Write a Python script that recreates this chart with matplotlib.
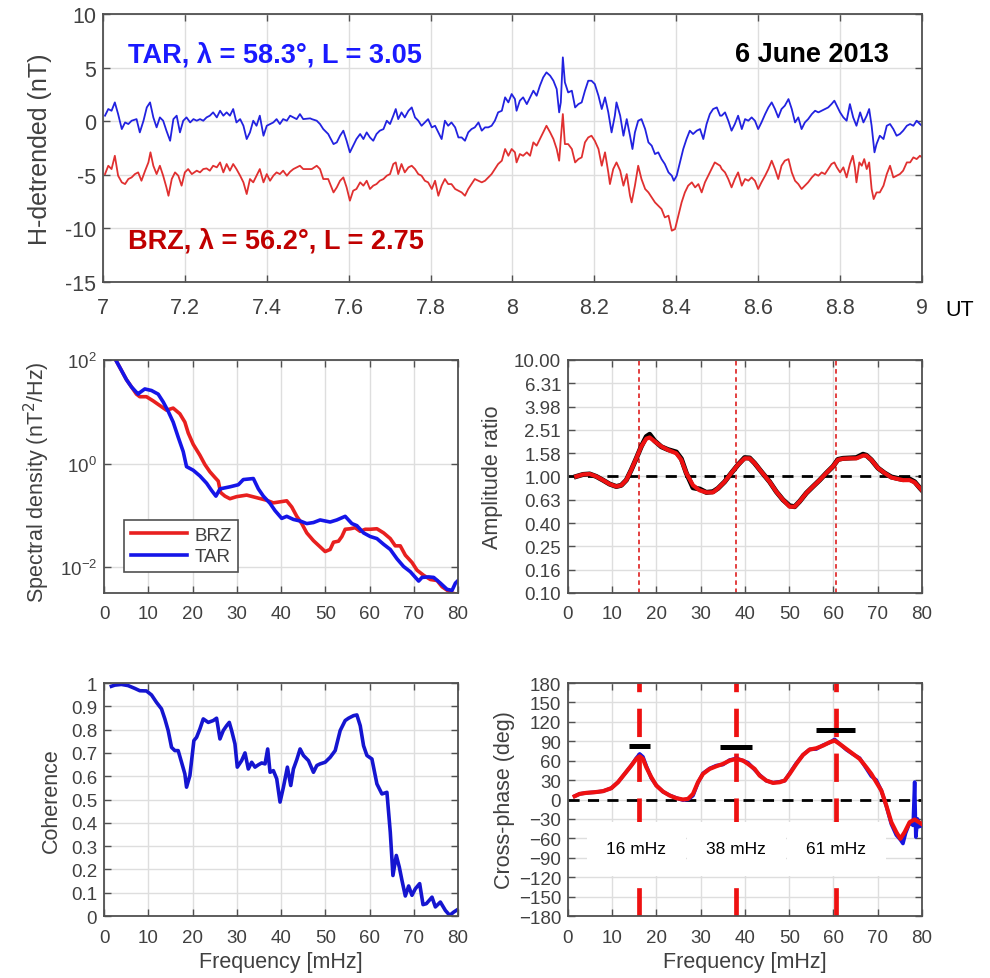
import numpy as np
import matplotlib
matplotlib.use('Agg')
import matplotlib.pyplot as plt
from matplotlib import font_manager
from matplotlib.ticker import NullLocator

plt.rcParams['font.family'] = ['Liberation Sans', 'DejaVu Sans']

_names = {f.name for f in font_manager.fontManager.ttflist}
NARROW = 'Liberation Sans Narrow' in _names
top_font = ['Liberation Sans Narrow', 'Liberation Sans'] if NARROW else ['Liberation Sans']

# ---- top panel: detrended H, 7-9 UT ----
tar_time = [7.005, 7.013, 7.021, 7.029, 7.037, 7.046, 7.054, 7.062, 7.070, 7.082, 7.090, 7.099, 7.107, 7.115, 7.123,
            7.131, 7.139, 7.147, 7.155, 7.164, 7.172, 7.180, 7.188, 7.196, 7.204, 7.213, 7.221, 7.229, 7.237, 7.245,
            7.253, 7.261, 7.269, 7.278, 7.286, 7.294, 7.302, 7.310, 7.318, 7.326, 7.335, 7.343, 7.351, 7.359, 7.367,
            7.375, 7.383, 7.392, 7.400, 7.408, 7.416, 7.424, 7.432, 7.440, 7.449, 7.457, 7.465, 7.473, 7.481, 7.489,
            7.506,
            7.510, 7.522, 7.530, 7.538, 7.550, 7.563, 7.571, 7.579, 7.587, 7.595, 7.603, 7.611, 7.619, 7.628, 7.636,
            7.644, 7.652, 7.660, 7.668, 7.676, 7.685, 7.693, 7.701, 7.709, 7.715, 7.721, 7.729, 7.737, 7.746, 7.754,
            7.762, 7.770, 7.778, 7.786, 7.794, 7.803, 7.811, 7.819, 7.827, 7.835, 7.843, 7.851, 7.860, 7.868, 7.876,
            7.884, 7.892, 7.900, 7.908, 7.917, 7.925, 7.933, 7.941, 7.949, 7.957, 7.965, 7.974, 7.982, 7.990, 7.998,
            8.006,
            8.010, 8.018, 8.026, 8.035, 8.043, 8.051, 8.059, 8.067, 8.075, 8.083, 8.092, 8.100, 8.108, 8.114, 8.118,
            8.123, 8.128, 8.136, 8.145, 8.153, 8.161, 8.169, 8.177, 8.185, 8.193, 8.201, 8.210, 8.218, 8.226, 8.234,
            8.242, 8.250, 8.254, 8.263, 8.271, 8.279, 8.287, 8.293, 8.299, 8.307, 8.315, 8.324, 8.332, 8.340, 8.348,
            8.356, 8.364, 8.372, 8.381, 8.389, 8.394, 8.401, 8.409, 8.417, 8.425, 8.433, 8.441, 8.450, 8.458, 8.466,
            8.474, 8.482, 8.490, 8.499, 8.507,
            8.511, 8.519, 8.527, 8.535, 8.543, 8.551, 8.560, 8.568, 8.576, 8.584, 8.592, 8.600, 8.608, 8.617, 8.625,
            8.633, 8.641, 8.649, 8.657, 8.665, 8.674, 8.682, 8.690, 8.698, 8.706, 8.714, 8.722, 8.731, 8.739, 8.747,
            8.755, 8.763, 8.771, 8.779, 8.786, 8.792, 8.800, 8.808, 8.816, 8.824, 8.832, 8.840, 8.849, 8.857, 8.865,
            8.871, 8.877, 8.884, 8.889, 8.897, 8.906, 8.914, 8.922, 8.930, 8.938, 8.946, 8.954, 8.963, 8.971, 8.979,
            8.987, 8.995, 9.000]
tar_h = [0.52, 1.14, 0.98, 1.76, 0.67, -0.73, -0.11, -0.26, 0.05, 0.20, -1.04, 0.05, 1.29, 1.76, 0.36,
         -0.57, 0.36, 0.05, -0.88, -1.82, 0.20, 0.52, -1.04, 0.05, 0.36, -0.11, 0.20, 0.05, 0.20, 0.05,
         0.36, 0.52, 0.83, 0.36, 0.98, 0.52, 0.83, 0.52, 1.14, -0.11, 0.20, -0.42, -1.66, -1.04, 0.05,
         -0.42, 0.52, -1.35, -0.42, -0.26, -0.11, 0.20, -0.26, 0.20, 0.05, 0.52, 0.36, 0.20, 0.67, 0.20,
         0.27,
         0.20, 0.05, -0.26, -0.73, -1.19, -2.13, -1.97, -1.35, -0.88, -1.82, -2.90, -2.28, -1.66, -1.19, -1.66,
         -1.04, -1.51, -1.82, -1.19, -0.88, -0.73, 0.05, -0.26, 0.52, 1.14, 0.20, 0.83, 0.36, 0.98, 1.29,
         0.36, 0.05, -0.42, -0.11, 0.20, -0.57, -0.42, -1.04, -1.66, 0.05, -0.42, -0.11, -0.57, -1.51, -1.51,
         -1.82, -1.04, -0.73, -0.57, -0.11, -0.88, -0.57, -0.57, -0.42, 0.05, 0.83, 0.98, 2.23, 1.76, 2.54,
         2.07,
         0.98, 1.92, 2.23, 1.60, 2.23, 2.85, 2.38, 3.32, 4.09, 4.56, 4.25, 3.78, 3.00, 0.83, 1.76,
         5.96, 3.63, 2.69, 2.85, 1.29, 1.60, 1.76, 2.85, 3.78, 3.78, 3.47, 2.38, 1.14, 2.23, 0.83,
         -1.04, 0.52, 1.76, 0.52, -1.35, 0.20, -1.35, -2.59, -1.04, 0.05, 0.20, -0.73, -1.97, -2.28, -3.06,
         -2.90, -3.53, -3.99, -4.77, -5.08, -5.55, -5.08, -3.84, -2.59, -1.66, -0.88, -1.19, -0.88, -0.73, -1.66,
         -0.26, 0.67, 1.14, 1.29, 0.52,
         0.52, 0.83, 0.05, -0.88, -0.26, 0.52, -0.73, 0.20, 0.05, 0.36, 0.05, -0.73, -0.11, 0.67, 1.29,
         1.76, 1.14, 0.36, 1.14, 1.45, 2.07, 1.14, -0.11, 0.36, -0.73, -0.11, 0.20, 0.67, 0.98, 0.83,
         0.98, 1.14, 1.29, 1.60, 1.92, 1.45, 0.83, 0.36, 0.05, 1.60, 0.36, -0.42, 0.83, -0.11, 0.52,
         1.14, -0.42, -2.90, -2.13, -1.35, -1.66, -0.42, -0.26, -0.73, -1.35, -1.19, -0.88, -0.42, -0.26, -0.42,
         0.05, -0.26, -0.42]

brz_time = [7.005, 7.013, 7.021, 7.029, 7.037, 7.046, 7.054, 7.062, 7.070, 7.078, 7.086, 7.094, 7.103, 7.111, 7.116,
            7.123, 7.131, 7.139, 7.147, 7.155, 7.160, 7.168, 7.176, 7.184, 7.192, 7.200, 7.208, 7.217, 7.229, 7.237,
            7.245, 7.253, 7.261, 7.269, 7.278, 7.286, 7.294, 7.302, 7.310, 7.318, 7.326, 7.335, 7.343, 7.351, 7.359,
            7.367, 7.375, 7.383, 7.392, 7.400, 7.408, 7.416, 7.424, 7.432, 7.440, 7.449, 7.457, 7.465, 7.473, 7.481,
            7.489, 7.506,
            7.510, 7.522, 7.530, 7.538, 7.550, 7.563, 7.571, 7.579, 7.587, 7.595, 7.603, 7.611, 7.619, 7.628, 7.636,
            7.644, 7.652, 7.660, 7.668, 7.676, 7.685, 7.693, 7.701, 7.709, 7.715, 7.721, 7.729, 7.737, 7.746, 7.754,
            7.762, 7.770, 7.778, 7.786, 7.794, 7.803, 7.811, 7.819, 7.827, 7.835, 7.843, 7.851, 7.860, 7.868, 7.876,
            7.884, 7.892, 7.900, 7.908, 7.917, 7.925, 7.933, 7.941, 7.949, 7.957, 7.965, 7.974, 7.982, 7.990, 7.998,
            8.006,
            8.010, 8.018, 8.026, 8.035, 8.043, 8.051, 8.059, 8.067, 8.075, 8.083, 8.092, 8.100, 8.108, 8.114, 8.118,
            8.123, 8.128, 8.136, 8.145, 8.153, 8.161, 8.169, 8.177, 8.185, 8.193, 8.201, 8.210, 8.218, 8.226, 8.234,
            8.238, 8.246, 8.254, 8.263, 8.271, 8.279, 8.287, 8.291, 8.299, 8.307, 8.315, 8.324, 8.332, 8.340, 8.348,
            8.356, 8.364, 8.372, 8.381, 8.389, 8.397, 8.405, 8.413, 8.421, 8.429, 8.438, 8.446, 8.454, 8.462, 8.470,
            8.478, 8.486, 8.494, 8.507,
            8.511, 8.519, 8.527, 8.535, 8.543, 8.551, 8.560, 8.568, 8.576, 8.584, 8.592, 8.600, 8.608, 8.617, 8.625,
            8.633, 8.641, 8.649, 8.657, 8.665, 8.674, 8.682, 8.690, 8.698, 8.706, 8.714, 8.722, 8.731, 8.739, 8.747,
            8.755, 8.763, 8.771, 8.779, 8.786, 8.792, 8.800, 8.808, 8.816, 8.824, 8.831, 8.836, 8.840, 8.847, 8.853,
            8.859, 8.865, 8.871, 8.877, 8.882, 8.889, 8.897, 8.906, 8.914, 8.922, 8.930, 8.938, 8.946, 8.954, 8.963,
            8.971, 8.979, 8.987, 8.995, 9.000]
brz_h = [-4.93, -4.15, -4.46, -3.22, -5.08, -5.70, -5.86, -5.39, -5.24, -4.93, -4.77, -5.55, -4.61, -3.84, -2.90,
         -4.15, -4.93, -4.15, -5.08, -6.17, -6.95, -5.39, -4.77, -5.08, -6.01, -4.77, -4.46, -4.93, -4.61, -4.77,
         -4.46, -4.40, -4.61, -4.15, -4.30, -3.84, -4.77, -3.99, -4.61, -3.99, -4.46, -5.08, -5.70, -6.79, -5.39,
         -5.70, -5.08, -4.46, -5.70, -4.93, -5.55, -5.08, -4.77, -4.93, -4.61, -5.08, -4.71, -4.46, -4.30, -4.15,
         -4.46, -4.46,
         -4.46, -4.15, -4.46, -5.39, -5.39, -6.64, -6.17, -5.55, -5.24, -6.17, -7.41, -6.48, -6.32, -5.70, -6.01,
         -5.55, -6.32, -6.01, -5.86, -5.55, -5.39, -5.08, -4.93, -3.99, -3.84, -4.93, -3.99, -4.77, -4.30, -4.15,
         -4.46, -4.93, -5.08, -5.55, -5.70, -6.32, -5.55, -6.95, -6.01, -5.39, -5.86, -5.86, -6.32, -6.48, -6.64,
         -6.95, -6.32, -5.86, -5.39, -5.55, -5.70, -5.55, -5.24, -4.93, -4.46, -3.99, -3.68, -2.59, -3.22, -2.59,
         -2.90,
         -3.84, -3.06, -3.22, -2.90, -3.22, -1.97, -2.28, -1.66, -1.04, -0.42, -1.04, -1.66, -2.59, -3.68, -1.66,
         0.67, -2.13, -2.13, -2.59, -3.84, -3.53, -3.37, -1.97, -1.51, -1.35, -1.82, -2.59, -4.15, -2.90, -4.77,
         -5.86, -4.46, -3.84, -4.61, -6.01, -4.93, -6.95, -7.57, -6.01, -4.15, -5.39, -6.32, -6.64, -7.10, -7.57,
         -7.88, -8.19, -8.97, -8.81, -10.21, -10.06, -8.81, -7.57, -6.64, -6.01, -5.70, -6.17, -5.86, -6.64, -5.70,
         -5.08, -4.46, -3.84, -4.15,
         -4.46, -4.77, -5.39, -6.17, -5.39, -4.77, -6.01, -5.39, -5.55, -5.24, -5.55, -6.32, -5.70, -5.08, -4.46,
         -3.68, -4.46, -5.39, -4.15, -3.68, -3.53, -4.77, -5.55, -5.86, -6.32, -6.01, -5.70, -5.24, -4.93, -5.08,
         -4.77, -4.93, -4.46, -3.99, -3.84, -4.30, -4.77, -4.30, -5.24, -3.99, -3.22, -4.30, -5.70, -3.84, -4.15,
         -3.53, -4.46, -3.84, -6.32, -7.26, -6.64, -6.64, -6.01, -4.93, -4.15, -5.24, -5.08, -4.93, -4.61, -3.84,
         -3.84, -3.37, -3.53, -3.22, -3.37]

top_xticks = [7, 7.2, 7.4, 7.6, 7.8, 8, 8.2, 8.4, 8.6, 8.8, 9]
top_yticks = [-15, -10, -5, 0, 5, 10]

# ---- spectral density (log10 nT^2/Hz) ----
psd_brz_f = [2.64, 3.92, 5.06, 6.19, 7.32, 8.08, 9.58, 11.09, 12.60, 14.11, 15.62, 17.13, 18.26, 19.02, 20.15,
             21.66, 22.79, 23.92, 25.06, 25.81, 26.34, 27.32, 28.45, 29.96, 32.23, 34.49, 36.75, 38.26, 39.77, 41.28,
             42.42, 43.55, 44.68, 45.81, 47.32, 48.83, 49.96, 51.09, 51.85, 52.98, 53.74, 54.49, 55.62, 56.75, 57.89,
             59.02, 60.15, 61.66, 63.17, 64.68, 65.81, 66.94, 68.08, 69.58, 70.72, 72.23, 73.74, 75.25, 76.38, 78.26,
             79.40, 80.00]
psd_brz_log = [2.00, 1.80, 1.62, 1.48, 1.34, 1.29, 1.29, 1.21, 1.12, 1.03, 1.07, 0.96, 0.80, 0.59, 0.37,
               0.16, -0.02, -0.16, -0.27, -0.34, -0.56, -0.63, -0.68, -0.64, -0.61, -0.66, -0.71, -0.76, -0.74, -0.72,
               -0.84, -1.02, -1.16, -1.34, -1.49, -1.61, -1.70, -1.66, -1.52, -1.50, -1.41, -1.27, -1.26, -1.24, -1.31,
               -1.27, -1.27, -1.26, -1.34, -1.45, -1.59, -1.59, -1.77, -1.91, -2.06, -2.16, -2.24, -2.26, -2.38, -2.49,
               -2.52, -2.52]
psd_tar_f = [2.64, 3.92, 5.06, 6.19, 7.70, 8.08, 9.21, 10.72, 12.23, 13.36, 14.49, 15.62, 16.75, 17.89, 18.64,
             20.15, 21.66, 23.17, 24.30, 25.28, 26.19, 28.45, 30.34, 31.47, 33.74, 34.87, 36.00, 37.51, 38.64, 40.15,
             41.28, 42.79, 44.30, 45.81, 47.32, 48.83, 51.09, 52.60, 54.49, 56.00, 57.13, 58.64, 60.15, 61.66, 63.17,
             64.68, 66.19, 67.70, 69.21, 71.09, 71.85, 73.36, 74.49, 76.00, 77.51, 78.64, 79.40, 80.00]
psd_tar_log = [2.00, 1.80, 1.62, 1.48, 1.34, 1.37, 1.44, 1.41, 1.34, 1.19, 1.01, 0.80, 0.51, 0.23, -0.06,
               -0.13, -0.24, -0.38, -0.52, -0.63, -0.49, -0.45, -0.41, -0.31, -0.29, -0.49, -0.63, -0.77, -0.91, -1.06,
               -1.02, -1.08, -1.11, -1.16, -1.14, -1.09, -1.13, -1.09, -1.02, -1.16, -1.20, -1.34, -1.41, -1.45, -1.56,
               -1.66, -1.84, -1.99, -2.09, -2.27, -2.20, -2.19, -2.20, -2.31, -2.43, -2.45, -2.31, -2.26]

# ---- amplitude ratio ----
amp_f = [1.88, 3.39, 4.90, 6.40, 7.91, 9.42, 10.92, 12.05, 13.18, 14.31, 15.44, 16.57, 17.70, 18.46, 19.59,
         21.09, 22.60, 24.48, 25.61, 26.74, 28.25, 29.76, 31.26, 32.77, 33.90, 35.40, 36.91, 38.42, 39.92, 41.05,
         42.18, 43.69, 45.57, 47.08, 48.59, 50.09, 51.22, 52.35, 53.86, 55.37, 56.87, 58.38, 59.89, 61.02, 62.15,
         63.65, 65.16, 66.67, 67.42, 68.55, 70.06, 71.56, 73.07, 74.58, 75.71, 77.21, 78.34, 79.47, 80.00]
amp_red = [1.00, 1.04, 1.05, 1.00, 0.93, 0.86, 0.82, 0.84, 0.93, 1.14, 1.43, 1.81, 2.11, 2.16, 2.00,
           1.81, 1.69, 1.58, 1.39, 1.07, 0.84, 0.76, 0.73, 0.73, 0.79, 0.90, 1.07, 1.26, 1.43, 1.43,
           1.30, 1.10, 0.90, 0.74, 0.63, 0.55, 0.55, 0.61, 0.72, 0.82, 0.93, 1.07, 1.22, 1.39, 1.42,
           1.43, 1.43, 1.51, 1.51, 1.39, 1.18, 1.07, 0.98, 0.95, 0.93, 0.93, 0.89, 0.80, 0.76]
amp_black = [1.00, 1.04, 1.05, 1.00, 0.93, 0.86, 0.82, 0.84, 0.93, 1.14, 1.43, 1.81, 2.20, 2.30, 2.02,
             1.80, 1.70, 1.62, 1.42, 1.07, 0.80, 0.78, 0.73, 0.74, 0.79, 0.90, 1.07, 1.26, 1.45, 1.44,
             1.30, 1.10, 0.90, 0.74, 0.63, 0.56, 0.55, 0.61, 0.72, 0.82, 0.93, 1.07, 1.22, 1.40, 1.43,
             1.44, 1.45, 1.55, 1.52, 1.39, 1.18, 1.07, 0.99, 0.96, 0.94, 0.95, 0.90, 0.80, 0.76]
amp_tick_labels = ['0.10', '0.16', '0.25', '0.40', '0.63', '1.00', '1.58', '2.51', '3.98', '6.31', '10.00']

# ---- coherence ----
coh_f = [1.66, 2.42, 3.92, 5.43, 6.94, 8.08, 9.58, 10.72, 11.85, 12.98, 13.74, 14.49, 15.25, 16.00, 16.75,
         17.51, 18.26, 18.64, 19.40, 20.30, 20.91, 21.66, 22.42, 23.55, 24.68, 25.43, 26.19, 26.94, 27.70, 28.30,
         28.83, 29.58, 30.11, 31.09, 31.85, 32.60, 33.36, 34.11, 34.87, 35.62, 36.38, 36.98, 37.51, 38.26, 39.02,
         39.77, 40.53, 41.43, 42.19, 42.79, 43.55, 44.30, 45.06, 46.19, 47.32, 48.08, 48.83, 49.96, 51.09, 52.23,
         53.36, 54.49, 55.25, 56.38, 57.13, 57.89, 58.64, 59.40, 60.53, 61.66, 62.79, 63.92, 64.68, 65.28, 66.04,
         66.72, 67.32, 68.08, 68.83, 69.58, 70.34, 71.32, 72.08, 72.83, 74.11, 74.87, 76.00, 77.13, 78.11, 79.02,
         80.00]
coh = [0.986, 0.991, 0.994, 0.989, 0.977, 0.967, 0.966, 0.949, 0.917, 0.889, 0.846, 0.796, 0.724, 0.710, 0.710,
       0.660, 0.610, 0.553, 0.603, 0.753, 0.767, 0.803, 0.846, 0.831, 0.839, 0.849, 0.760, 0.796, 0.817, 0.831,
       0.796, 0.739, 0.639, 0.667, 0.700, 0.631, 0.660, 0.639, 0.649, 0.657, 0.653, 0.717, 0.617, 0.624, 0.589,
       0.489, 0.553, 0.639, 0.560, 0.631, 0.671, 0.717, 0.689, 0.667, 0.617, 0.646, 0.653, 0.660, 0.681, 0.710,
       0.796, 0.839, 0.849, 0.860, 0.863, 0.817, 0.731, 0.689, 0.674, 0.567, 0.524, 0.531, 0.360, 0.174, 0.260,
       0.210, 0.153, 0.086, 0.129, 0.089, 0.117, 0.139, 0.049, 0.053, 0.081, 0.039, 0.060, 0.024, 0.003, 0.017,
       0.029]

# ---- cross-phase ----
ph_red_f = [1.51, 2.64, 4.14, 6.03, 7.91, 9.79, 11.30, 12.81, 14.31, 15.44, 16.20, 16.95, 17.70, 18.83, 19.96,
            21.47, 22.98, 24.48, 25.99, 27.12, 28.25, 29.38, 30.51, 32.02, 33.52, 35.03, 36.53, 38.04, 39.55, 40.68,
            42.18, 43.31, 44.82, 46.33, 47.83, 48.96, 50.09, 51.60, 53.11, 54.61, 56.12, 57.63, 59.13, 60.26, 61.39,
            62.90, 64.41, 65.91, 67.42, 68.55, 69.68, 70.81, 71.94, 73.07, 74.20, 75.10, 76.08, 77.21, 78.34, 79.32,
            80.00]
ph_red = [5.1, 8.7, 10.3, 11.3, 12.9, 17.5, 26.7, 39.6, 52.5, 62.8, 66.9, 62.8, 49.9, 34.5, 21.6,
          12.3, 6.2, 2.1, 0.0, 1.0, 8.7, 26.7, 39.6, 47.3, 51.4, 55.0, 60.2, 62.8, 60.2, 55.0,
          47.3, 37.0, 29.3, 25.7, 26.7, 29.3, 39.6, 55.0, 68.9, 77.2, 79.2, 83.3, 88.5, 91.0, 85.9,
          78.2, 70.5, 62.8, 49.9, 39.6, 26.7, 13.9, -9.3, -35.0, -50.4, -60.7, -50.4, -35.0, -30.9, -35.0,
          -38.1]
ph_tar_f = [1.51, 2.64, 4.14, 6.03, 7.91, 9.79, 11.30, 12.81, 14.31, 15.44, 16.20, 16.95, 17.70, 18.83, 19.96,
            21.47, 22.98, 24.48, 25.99, 27.12, 28.25, 29.38, 30.51, 32.02, 33.52, 35.03, 36.53, 38.04, 39.55, 40.68,
            42.18, 43.31, 44.82, 46.33, 47.83, 48.96, 50.09, 51.60, 53.11, 54.61, 56.12, 57.63, 59.13, 60.26, 61.39,
            62.90, 64.41, 65.91, 67.42, 68.55, 69.68, 70.81, 71.94, 73.07, 74.20, 75.10, 75.70, 76.30, 77.21, 78.00,
            78.34, 78.60, 79.00, 79.32, 80.00]
ph_tar = [5.1, 8.7, 10.3, 11.3, 12.9, 17.5, 26.7, 39.6, 52.5, 64.0, 70.5, 66.0, 52.0, 33.0, 22.0,
          12.0, 6.5, 2.5, -1.0, 0.0, 6.0, 26.0, 40.5, 48.0, 52.5, 54.0, 61.0, 63.5, 60.0, 57.0,
          46.0, 38.0, 29.0, 26.0, 27.5, 29.0, 40.5, 56.0, 69.0, 77.5, 78.0, 84.0, 88.0, 93.0, 86.0,
          77.0, 70.0, 64.0, 48.0, 36.0, 30.0, 14.0, -10.0, -38.0, -55.0, -62.0, -68.0, -52.0, -36.0, -40.0,
          27.0, -58.0, -30.0, -42.0, -40.0]

peak_f = [16, 38, 60.5]
peak_labels = ['16 mHz', '38 mHz', '61 mHz']
label_f = [15.4, 38.0, 60.6]
bar_lo = [13.8, 34.3, 56.1]
bar_hi = [18.5, 41.7, 64.9]
bar_phase = [83, 81, 108]

TICK_C = '#404040'
SPINE_C = '#505050'
GRID_C = '#dedede'


def style(ax, size=13.5):
    ax.set_axisbelow(True)
    ax.grid(True, color=GRID_C, lw=1.0)
    for s in ax.spines.values():
        s.set_color(SPINE_C)
        s.set_linewidth(1.3)
    ax.tick_params(direction='in', top=True, right=True, length=5, width=1.0,
                   color=SPINE_C, labelcolor=TICK_C, labelsize=size)
    ax.tick_params(axis='x', pad=9)
    ax.tick_params(axis='y', pad=5)


fig = plt.figure(figsize=(9.9, 9.79), dpi=100)

# top panel
ax0 = fig.add_axes([0.1040, 0.7109, 0.8273, 0.2737])
ax0.plot(tar_time, tar_h, color='#2222e0', lw=1.3)
ax0.plot(brz_time, brz_h, color='#e03030', lw=1.3)
ax0.set_xlim(7, 9)
ax0.set_ylim(-15, 10)
style(ax0, 15)
top_tick_size = 17 if NARROW else 15.5
ax0.set_xticks(top_xticks)
ax0.set_xticklabels(['{:g}'.format(v) for v in top_xticks], family=top_font, fontsize=top_tick_size)
ax0.set_yticks(top_yticks)
ax0.set_yticklabels(['{:g}'.format(v) for v in top_yticks], family=top_font, fontsize=top_tick_size)
ax0.tick_params(axis='x', pad=11)
ax0.set_ylabel('H-detrended (nT)', fontsize=18, color=TICK_C)
ax0.yaxis.set_label_coords(-0.062, 0.5)
tsize = 23 if NARROW else 19.5
ax0.text(7.061, 6.27, 'TAR, λ = 58.3°, L = 3.05', color='#1a1aff', fontsize=tsize,
         fontweight='bold', family=top_font, va='center')
ax0.text(7.061, -11.08, 'BRZ, λ = 56.2°, L = 2.75', color='#c00000', fontsize=tsize,
         fontweight='bold', family=top_font, va='center')
ax0.text(8.543, 6.27, '6 June 2013', color='black', fontsize=tsize,
         fontweight='bold', family=top_font, va='center')
fig.text(0.9545, 0.683, 'UT', fontsize=top_tick_size, family=top_font, color='black', va='center')

# spectral density
ax1 = fig.add_axes([0.1051, 0.3933, 0.3576, 0.2380])
ax1.plot(psd_brz_f, 10.0 ** np.array(psd_brz_log), color='#e8201f', lw=2.6, label='BRZ')
ax1.plot(psd_tar_f, 10.0 ** np.array(psd_tar_log), color='#1515e8', lw=2.6, label='TAR')
ax1.set_yscale('log')
ax1.set_xlim(0, 80)
ax1.set_ylim(10 ** -2.5, 100)
ax1.set_yticks([1e-2, 1, 1e2])
ax1.yaxis.set_minor_locator(NullLocator())
ax1.set_xticks(range(0, 81, 10))
style(ax1)
ax1.set_ylabel('Spectral density (nT$^2$/Hz)', fontsize=15.5, color=TICK_C)
ax1.yaxis.set_label_coords(-0.147, 0.48)
leg = ax1.legend(loc='lower left', bbox_to_anchor=(0.03, 0.05), fontsize=13.5, handlelength=3.0,
                 fancybox=False, framealpha=1, borderpad=0.35, labelspacing=0.25, handletextpad=0.4)
leg.get_frame().set_edgecolor('#505050')
leg.get_frame().set_linewidth(1.2)
for t in leg.get_texts():
    t.set_color(TICK_C)

# amplitude ratio
ax2 = fig.add_axes([0.5737, 0.3933, 0.3576, 0.2380])
for f in peak_f:
    ax2.axvline(f, color='#e03030', lw=1.3, ls=(0, (2.5, 2)))
ax2.axhline(1.0, color='black', lw=2.0, ls=(0, (4, 3)))
ax2.plot(amp_f, amp_black, color='black', lw=3.6)
ax2.plot(amp_f, amp_red, color='#ee1111', lw=3.0)
ax2.set_yscale('log')
ax2.set_xlim(0, 80)
ax2.set_ylim(0.1, 10)
ax2.set_yticks(10.0 ** np.linspace(-1, 1, 11))
ax2.set_yticklabels(amp_tick_labels)
ax2.yaxis.set_minor_locator(NullLocator())
ax2.set_xticks(range(0, 81, 10))
style(ax2)
ax2.set_ylabel('Amplitude ratio', fontsize=15.5, color=TICK_C)
ax2.yaxis.set_label_coords(-0.184, 0.5)

# coherence
ax3 = fig.add_axes([0.1051, 0.0633, 0.3576, 0.2380])
ax3.plot(coh_f, coh, color='#1515d0', lw=2.6)
ax3.set_xlim(0, 80)
ax3.set_ylim(0, 1)
ax3.set_xticks(range(0, 81, 10))
ax3.set_yticks(np.arange(11) / 10)
ax3.set_yticklabels(['{:g}'.format(v / 10) for v in range(11)])
style(ax3)
ax3.set_ylabel('Coherence', fontsize=15.5, color=TICK_C)
ax3.yaxis.set_label_coords(-0.119, 0.5)
ax3.set_xlabel('Frequency [mHz]', fontsize=15.5, color=TICK_C, labelpad=4)

# cross-phase
ax4 = fig.add_axes([0.5737, 0.0633, 0.3576, 0.2380])
ax4.axhline(0, color='black', lw=2.0, ls=(0, (4, 3)), zorder=2)
for f in peak_f:
    ax4.axvline(f, color='#ee1111', lw=3.4, ls=(0, (6, 3.5)), zorder=2)
ax4.plot(ph_tar_f, ph_tar, color='#1515e0', lw=2.6, zorder=3)
ax4.plot(ph_red_f, ph_red, color='#ee1111', lw=3.0, zorder=4)
ax4.hlines(bar_phase, bar_lo, bar_hi, color='black', lw=3.6, zorder=5)
for lf, lab in zip(label_f, peak_labels):
    ax4.text(lf, -76, lab, fontsize=12.5, ha='center', va='center', zorder=6,
             bbox=dict(facecolor='white', edgecolor='none', pad=14))
ax4.set_xlim(0, 80)
ax4.set_ylim(-180, 180)
ax4.set_xticks(range(0, 81, 10))
ax4.set_yticks(range(-180, 181, 30))
style(ax4)
ax4.set_ylabel('Cross-phase (deg)', fontsize=15.5, color=TICK_C)
ax4.yaxis.set_label_coords(-0.150, 0.5)
ax4.set_xlabel('Frequency [mHz]', fontsize=15.5, color=TICK_C, labelpad=4)

fig.savefig('out.png', dpi=100)
